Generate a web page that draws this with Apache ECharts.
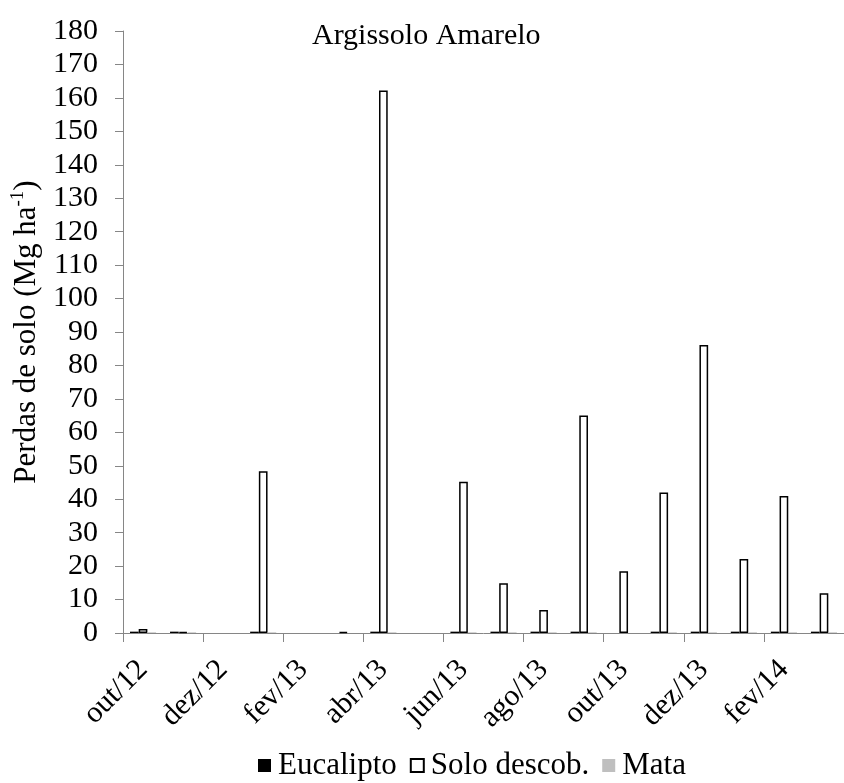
<!DOCTYPE html>
<html>
<head>
<meta charset="utf-8">
<script src="https://cdn.jsdelivr.net/npm/echarts@6/dist/echarts.min.js"></script>
<style>html,body{margin:0;padding:0;background:#fff;}#c{width:844px;height:783px;}</style>
</head>
<body>
<div id="c"></div>
<script>
var categories = ['out/12','nov/12','dez/12','jan/13','fev/13','mar/13','abr/13','mai/13','jun/13','jul/13','ago/13','set/13','out/13','nov/13','dez/13','jan/14','fev/14','mar/14'];
var eucalipto = [0.4,0.4,null,0.4,null,null,0.4,null,0.4,0.4,0.4,0.4,null,0.4,0.4,0.4,0.4,0.4];
var soloDescob = [1.2,0.3,null,48.4,null,0.3,162.2,null,45.2,14.9,6.9,65,18.5,42,86.1,22.1,41,11.9];
var mata = [0.2,0.2,null,0.2,null,null,0.2,null,0.2,0.2,0.2,0.2,null,0.2,0.2,0.2,0.2,0.2];
var yTicks = {min: 0, max: 180, interval: 10};

var FONT = 'Liberation Serif';
var chart = echarts.init(document.getElementById('c'), null, {renderer: 'canvas'});
chart.setOption({
  animation: false,
  backgroundColor: '#fff',
  title: {
    text: 'Argissolo Amarelo',
    left: 307, top: 16,
    textStyle: {fontFamily: FONT, fontSize: 30, fontWeight: 'normal', color: '#000'}
  },
  legend: {
    left: 253, top: 745,
    itemWidth: 13, itemHeight: 13, itemGap: 13,
    icon: 'rect',
    textStyle: {fontFamily: FONT, fontSize: 31, color: '#000', padding: [0,0,0,2]},
    data: ['Eucalipto', 'Solo descob.', 'Mata']
  },
  grid: {left: 123, top: 31, bottom: 150, right: -9, containLabel: false},
  xAxis: {
    type: 'category',
    data: categories,
    boundaryGap: true,
    axisLine: {lineStyle: {color: '#868686', width: 1}},
    axisTick: {show: true, interval: 1, length: 9, lineStyle: {color: '#868686'}},
    axisLabel: {interval: 1, rotate: 45, margin: 32, fontFamily: FONT, fontSize: 30, color: '#000'},
    splitLine: {show: false}
  },
  yAxis: {
    type: 'value',
    min: yTicks.min, max: yTicks.max, interval: yTicks.interval,
    axisLine: {show: true, lineStyle: {color: '#868686', width: 1}},
    axisTick: {show: true, length: 8, lineStyle: {color: '#868686'}},
    axisLabel: {margin: 25, fontFamily: FONT, fontSize: 30, color: '#000'},
    splitLine: {show: false},
    name: '{a|Perdas de solo (Mg ha}{s|-1}{a|)}',
    nameLocation: 'middle',
    nameRotate: 90,
    nameGap: 81,
    nameTextStyle: {
      rich: {
        a: {fontFamily: FONT, fontSize: 31, color: '#000', lineHeight: 34, verticalAlign: 'bottom'},
        s: {fontFamily: FONT, fontSize: 19, color: '#000', lineHeight: 34, verticalAlign: 'bottom', padding: [0,0,14,0]}
      }
    }
  },
  series: [
    {name: 'Eucalipto', type: 'bar', data: eucalipto, barWidth: 8.7, barGap: '0%',
     itemStyle: {color: '#000'}},
    {name: 'Solo descob.', type: 'bar', data: soloDescob, barWidth: 8.7, barGap: '0%',
     itemStyle: {color: '#fff', borderColor: '#000', borderWidth: 1.5}},
    {name: 'Mata', type: 'bar', data: mata, barWidth: 8.7, barGap: '0%',
     itemStyle: {color: '#bfbfbf'}}
  ]
});
</script>
</body>
</html>
